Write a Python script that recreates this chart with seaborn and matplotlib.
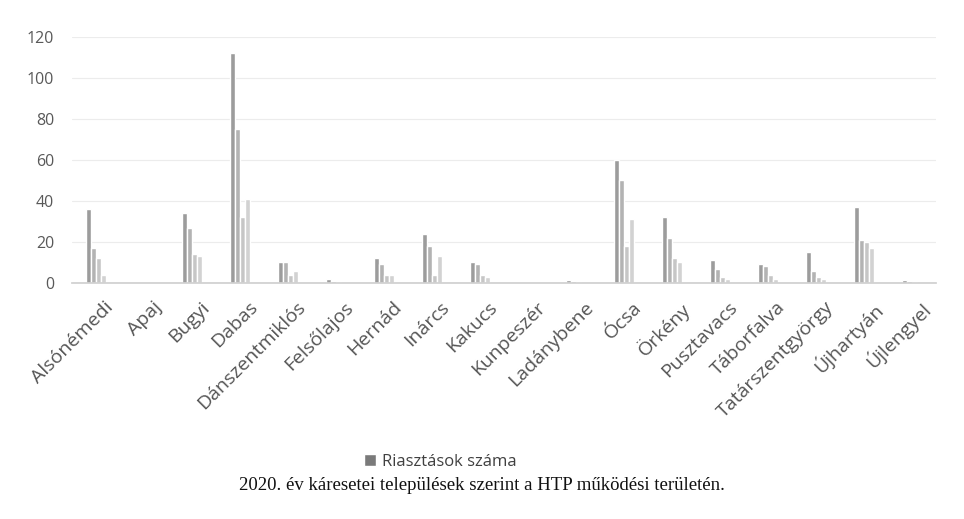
import matplotlib
matplotlib.use("Agg")
import matplotlib.pyplot as plt
import matplotlib.transforms as mtransforms
import seaborn as sns
import pandas as pd

# settlements in the HTP service area
settlements = [
    "Alsónémedi", "Apaj", "Bugyi", "Dabas", "Dánszentmiklós", "Felsőlajos",
    "Hernád", "Inárcs", "Kakucs", "Kunpeszér", "Ladánybene", "Ócsa",
    "Örkény", "Pusztavacs", "Táborfalva", "Tatárszentgyörgy", "Újhartyán",
    "Újlengyel",
]

# four bar series per settlement (only the first one is named in the legend)
riasztasok = [36, 0, 34, 112, 10, 2, 12, 24, 10, 0, 1.5, 60, 32, 11, 9, 15, 37, 1.5]
series_2 = [17, 0, 27, 75, 10, 1, 9, 18, 9, 0, 1, 50, 22, 7, 8, 6, 21, 1]
series_3 = [12, 0, 14, 32, 4, 0.5, 4, 4, 4, 0, 0.5, 18, 12, 3, 4, 3, 20, 0.5]
series_4 = [4, 0, 13, 41, 6, 0, 4, 13, 3, 0, 0, 31, 10, 2, 2, 2, 17, 0]

series_names = ["Riasztások száma", "s2", "s3", "s4"]
yticks = [0, 20, 40, 60, 80, 100, 120]

frames = []
for name, vals in zip(series_names, [riasztasok, series_2, series_3, series_4]):
    frames.append(pd.DataFrame({"telepules": settlements, "ertek": vals, "sorozat": name}))
df = pd.concat(frames, ignore_index=True)

sns.set_theme(style="white")
plt.rcParams["font.family"] = ["Open Sans", "DejaVu Sans"]

fig = plt.figure(figsize=(9.64, 5.19), dpi=100)
ax = fig.add_axes([0.075, 0.455, 0.896, 0.474])

palette = ["#9c9c9c", "#b3b3b3", "#c6c6c6", "#d2d2d2"]
sns.barplot(data=df, x="telepules", y="ertek", hue="sorozat", palette=palette,
            width=0.42, saturation=1, ax=ax, legend=True)

ax.set_ylim(0, 120)
ax.set_yticks(yticks)
ax.set_yticklabels([str(t) for t in yticks], color="#595959", fontsize=11.5)
ax.set_xlim(-0.5, len(settlements) - 0.5)
ax.set_xlabel("")
ax.set_ylabel("")
ax.yaxis.grid(True, color="#ececec", linewidth=0.8)
ax.set_axisbelow(True)
for side in ["top", "right", "left"]:
    ax.spines[side].set_visible(False)
ax.spines["bottom"].set_color("#d0d0d0")
ax.tick_params(axis="y", length=0, pad=13)
ax.tick_params(axis="x", length=0, pad=11)

# labels sit a little right of the category centre, like the Excel original
shift = mtransforms.ScaledTranslation(8 / 100, 0, fig.dpi_scale_trans)
for lbl in ax.get_xticklabels():
    lbl.set_rotation(45)
    lbl.set_ha("right")
    lbl.set_rotation_mode("anchor")
    lbl.set_color("#555555")
    lbl.set_fontsize(14)
    lbl.set_transform(lbl.get_transform() + shift)

handles, labels = ax.get_legend_handles_labels()
ax.get_legend().remove()
handles[0].set_facecolor("#7a7a7a")
fig.legend([handles[0]], [labels[0]], loc="center", bbox_to_anchor=(0.457, 0.11),
           frameon=False, fontsize=12, handlelength=0.7, handleheight=0.7,
           handletextpad=0.35, labelcolor="#404040")

fig.text(0.5, 0.065, "2020. év káresetei települések szerint a HTP működési területén.",
         ha="center", va="center", fontsize=13.5, family=["Liberation Serif", "DejaVu Serif"],
         color="#111111")

fig.savefig("out.png", dpi=100, facecolor="white")
